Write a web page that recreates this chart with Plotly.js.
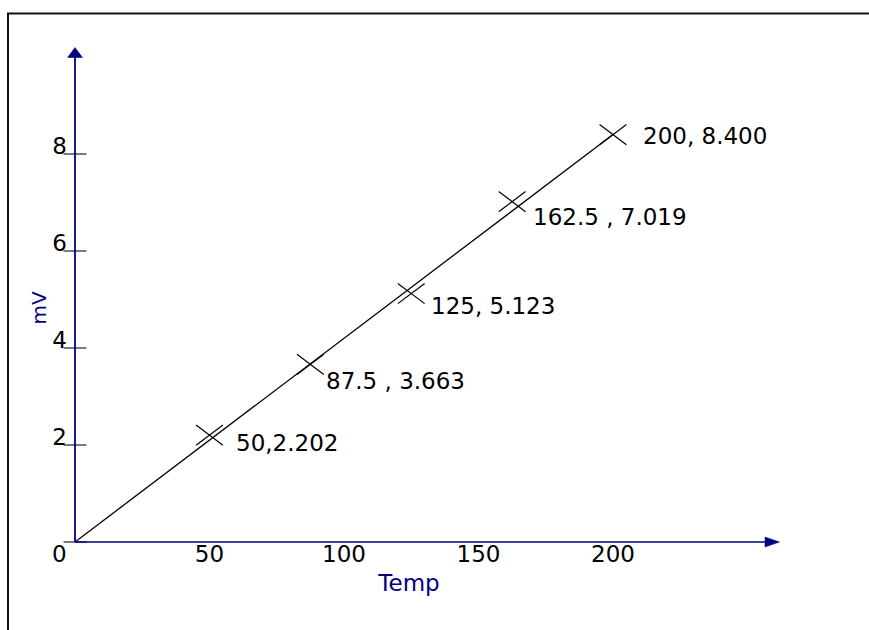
<!DOCTYPE html>
<html><head><meta charset="utf-8">
<script src="https://cdn.plot.ly/plotly-3.0.1.min.js"></script>
<style>html,body{margin:0;padding:0;background:#fff;}#chart{width:869px;height:630px;}</style>
</head><body><div id="chart"></div>
<script>
// ---- data ----
const tempX = [50, 87.5, 125, 162.5, 200];
const mvY = [2.202, 3.663, 5.123, 7.019, 8.400];
const pointLabels = ['50,2.202', '87.5 , 3.663', '125, 5.123', '162.5 , 7.019', '200, 8.400'];
const fitX = [0, 200];
const fitY = [0, 8.4];
const xTickVals = [50, 100, 150, 200];
const xTickText = ['50', '100', '150', '200'];
const yTickVals = [2, 4, 6, 8];
const yTickText = ['2', '4', '6', '8'];
const yTickMarks = [0, 2, 4, 6, 8];

// ---- geometry ----
const W = 869, H = 630;
const L = 75, R = 126, T = 74, B = 88;
const pw = W - L - R, ph = H - T - B;
const xMax = pw / 2.69, yMax = ph / 48.5;
const px = v => (v - L) / pw;
const py = v => (H - B - v) / ph;
const FONT = 'DejaVu Sans';
const NAVY = '#000080';

// label offsets (pixels) for each point label
const labelShift = [[24, -8], [14, -17], [18, -12], [19, -15], [28, -1]];

const traces = [
  {x: fitX, y: fitY, mode: 'lines', line: {color: '#000', width: 1.3}, hoverinfo: 'skip', cliponaxis: false},
  {x: tempX, y: mvY, mode: 'markers', cliponaxis: false,
   marker: {symbol: 'line-ew', size: 24, angle: 37, color: '#000', line: {color: '#000', width: 1.2}}},
  {x: tempX, y: mvY, mode: 'markers', cliponaxis: false,
   marker: {symbol: 'line-ew', size: 24, angle: -37, color: '#000', line: {color: '#000', width: 1.2}}},
  {x: yTickMarks.map(() => 0), y: yTickMarks, mode: 'markers', cliponaxis: false, hoverinfo: 'skip',
   marker: {symbol: 'line-ew', size: 16.4, color: '#222', line: {color: '#222', width: 1.2}}}
];

const shapes = [
  // outer frame
  {type: 'line', xref: 'paper', yref: 'paper', x0: px(7), x1: px(872), y0: py(13.5), y1: py(13.5), line: {color: '#111', width: 2}},
  {type: 'line', xref: 'paper', yref: 'paper', x0: px(8), x1: px(8), y0: py(13), y1: py(634), line: {color: '#111', width: 2}},
  // axes
  {type: 'line', xref: 'paper', yref: 'paper', x0: px(75), x1: px(770), y0: py(542), y1: py(542), line: {color: NAVY, width: 1.6}},
  {type: 'line', xref: 'paper', yref: 'paper', x0: px(75), x1: px(75), y0: py(542), y1: py(54), line: {color: NAVY, width: 1.8}},
  // arrowheads
  {type: 'path', xref: 'paper', yref: 'paper', fillcolor: NAVY, line: {color: NAVY, width: 0.5},
   path: `M${px(765)},${py(537)} L${px(779.5)},${py(542)} L${px(765)},${py(547)} Z`},
  {type: 'path', xref: 'paper', yref: 'paper', fillcolor: NAVY, line: {color: NAVY, width: 0.5},
   path: `M${px(67.5)},${py(57.5)} L${px(75)},${py(47.5)} L${px(82.5)},${py(57.5)} Z`}
];

const annotations = tempX.map((xv, i) => ({
  x: xv, y: mvY[i], xref: 'x', yref: 'y', text: pointLabels[i], showarrow: false,
  xanchor: 'left', yanchor: 'middle', xshift: labelShift[i][0], yshift: labelShift[i][1],
  font: {family: FONT, size: 23, color: '#000'}
}));
annotations.push({x: 0, y: 0, xref: 'x', yref: 'y', text: '0', showarrow: false,
  xanchor: 'center', yanchor: 'middle', xshift: -16, yshift: -11.5,
  font: {family: FONT, size: 23, color: '#000'}});

const layout = {
  width: W, height: H, margin: {l: L, r: R, t: T, b: B},
  paper_bgcolor: '#fff', plot_bgcolor: '#fff', showlegend: false,
  xaxis: {range: [0, xMax], showline: false, zeroline: false, showgrid: false, ticks: '',
    tickmode: 'array', tickvals: xTickVals, ticktext: xTickText, ticklabelstandoff: -4,
    tickfont: {family: FONT, size: 23, color: '#000'},
    title: {text: 'Temp', font: {family: FONT, size: 23, color: NAVY}, standoff: 8}},
  yaxis: {range: [0, yMax], showline: false, zeroline: false, showgrid: false, ticks: '',
    tickmode: 'array', tickvals: yTickVals, ticktext: yTickText, ticklabelshift: -8, ticklabelstandoff: 7,
    tickfont: {family: FONT, size: 23, color: '#000'},
    title: {text: 'mV', font: {family: FONT, size: 20, color: NAVY}, standoff: 0}},
  shapes: shapes, annotations: annotations
};

Plotly.newPlot('chart', traces, layout, {displayModeBar: false, staticPlot: true});
</script>
</body></html>
